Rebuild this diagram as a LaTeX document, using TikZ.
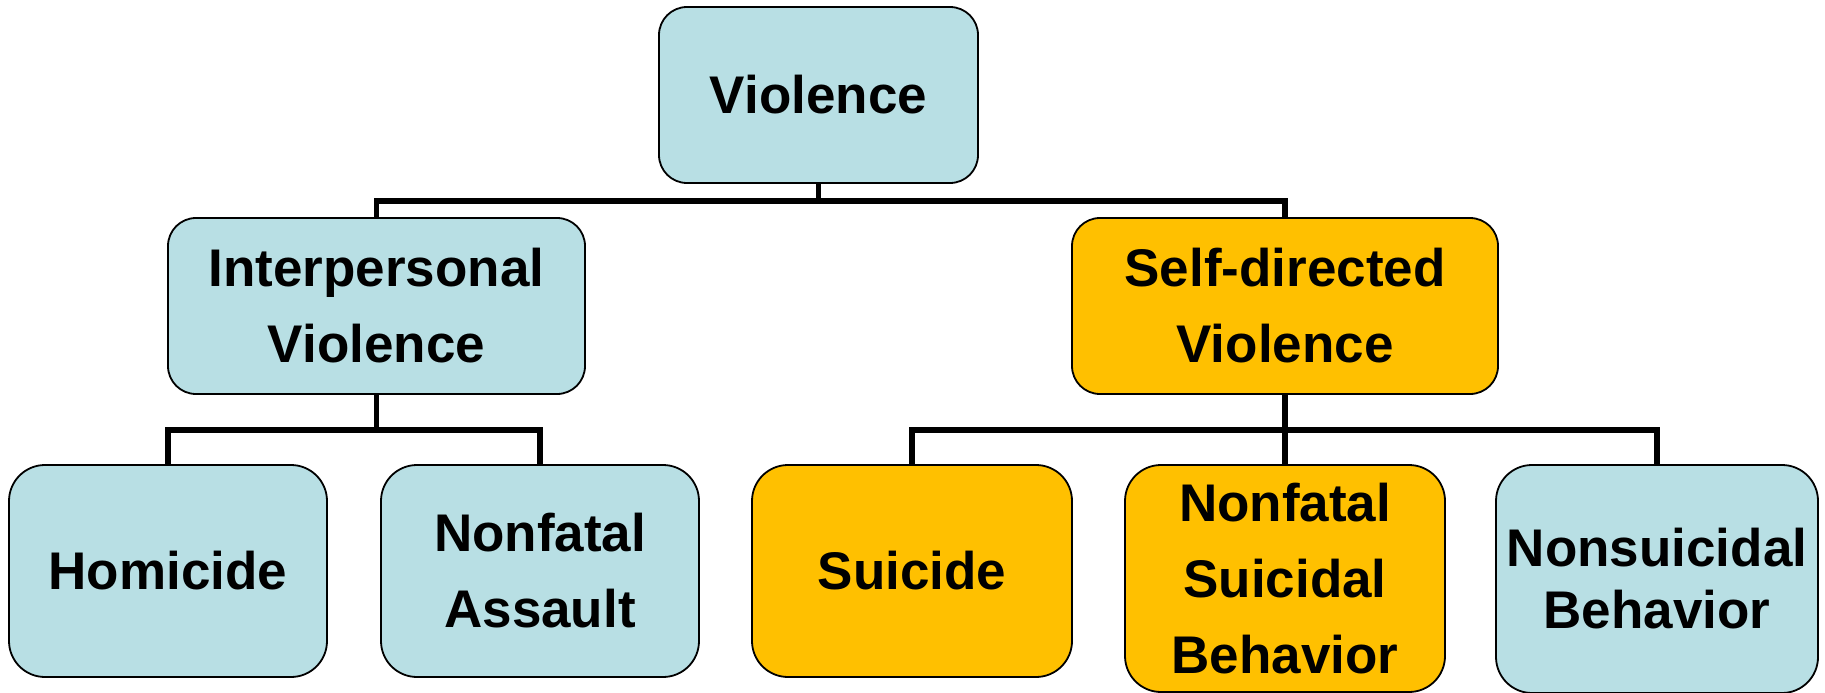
\documentclass[tikz,border=0pt]{standalone}
\usepackage{fontspec}
\setmainfont{Liberation Sans}
\definecolor{lblue}{RGB}{184,223,228}
\definecolor{lorange}{RGB}{255,192,0}
\begin{document}
\begin{tikzpicture}[x=1pt,y=-1pt,
  box/.style={draw=black, line width=1.8pt, rounded corners=28pt, inner sep=0pt,
    align=center, font=\fontsize{53}{76}\selectfont\bfseries},
  leaf/.style={box, rounded corners=36pt},
  blue/.style={fill=lblue},
  orange/.style={fill=lorange},
  conn/.style={draw=black, line width=5.5pt, line join=miter}]
\useasboundingbox (0,0) rectangle (1825,693);

\node[box, blue, minimum width=319pt, minimum height=176pt] (vio) at (818.5,95) {Violence};
\node[box, blue, minimum width=417pt, minimum height=176pt] (inter) at (376.5,306) {Interpersonal\\Violence};
\node[box, orange, minimum width=426pt, minimum height=176pt] (self) at (1285,306) {Self-directed\\Violence};

\node[leaf, blue, minimum width=318pt, minimum height=212pt] (hom) at (168,571) {Homicide};
\node[leaf, blue, minimum width=318pt, minimum height=212pt] (nfa) at (540,571) {Nonfatal\\Assault};
\node[leaf, orange, minimum width=320pt, minimum height=212pt] (sui) at (912,571) {Suicide};
\node[leaf, orange, minimum width=320pt, minimum height=227pt] (nfs) at (1285,578.5) {Nonfatal\\Suicidal\\Behavior};
\node[leaf, blue, minimum width=322pt, minimum height=228pt, font=\fontsize{53}{62}\selectfont\bfseries] (nsb) at (1657,579) {Nonsuicidal\\Behavior};

\coordinate (b1) at (818.5,201);
\coordinate (b2) at (376.5,430);
\coordinate (b3) at (1285,430);

\draw[conn] (vio.south) -- (b1);
\draw[conn] (inter.north) |- (b1) -| (self.north);
\draw[conn] (inter.south) -- (b2);
\draw[conn] (hom.north) |- (b2) -| (nfa.north);
\draw[conn] (self.south) -- (b3) -- (nfs.north);
\draw[conn] (sui.north) |- (b3) -| (nsb.north);
\end{tikzpicture}
\end{document}
